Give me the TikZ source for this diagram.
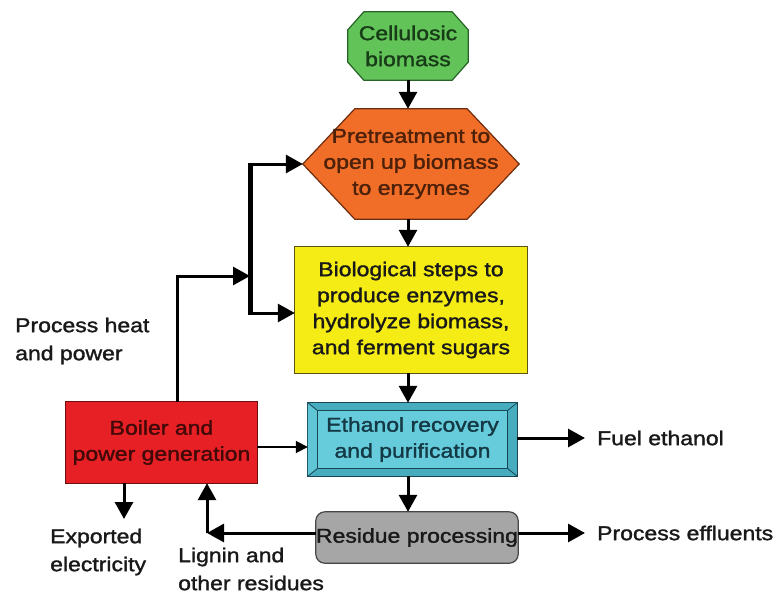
\documentclass[tikz,border=0pt]{standalone}
\usepackage{fontspec}
\setmainfont[FakeStretch=1.15,FakeBold=1.5]{Liberation Sans}
\usetikzlibrary{arrows.meta,calc}
\definecolor{cgreen}{RGB}{98,196,88}
\definecolor{cgreenb}{RGB}{40,100,40}
\definecolor{corange}{RGB}{240,110,40}
\definecolor{corangeb}{RGB}{110,45,15}
\definecolor{cyellow}{RGB}{245,236,22}
\definecolor{cyellowb}{RGB}{90,85,20}
\definecolor{ccyan}{RGB}{102,204,220}
\definecolor{ccyand}{RGB}{70,172,190}
\definecolor{ccyanb}{RGB}{25,70,85}
\definecolor{cred}{RGB}{230,32,36}
\definecolor{credb}{RGB}{110,15,15}
\definecolor{cgray}{RGB}{166,166,166}
\definecolor{cgrayb}{RGB}{70,70,70}
\definecolor{txt}{RGB}{25,25,25}
\tikzset{
  box/.style={draw=none, inner sep=0pt, align=center, text=txt,
    font=\fontsize{20}{26}\selectfont},
  lbl/.style={inner sep=0pt, align=left, text=txt,
    font=\fontsize{20}{28}\selectfont},
  flow/.style={line width=3pt, -{Triangle[length=17pt,width=18pt]}},
  thinflow/.style={line width=1.8pt, -{Triangle[length=12pt,width=12pt]}},
  bar/.style={line width=5pt},
}
\begin{document}
\begin{tikzpicture}[x=1pt,y=-1pt]
\useasboundingbox[fill=white] (0,0) rectangle (777,597);

% --- nodes (text holders with exact sizes) ---
\node[box, minimum width=120pt, minimum height=68pt] (cb) at (408,46) {};
\node[box, minimum width=216pt, minimum height=110pt] (pre) at (411,164) {};
\node[box, minimum width=232pt, minimum height=126pt] (bio) at (411,310) {};
\node[box, minimum width=209pt, minimum height=73pt] (eth) at (412.5,439.5) {};
\node[box, minimum width=202pt, minimum height=51pt] (res) at (417,537.5) {};
\node[box, minimum width=191pt, minimum height=81pt] (boil) at (161.5,442.5) {};

% --- shapes ---
\fill[cgreen, draw=cgreenb, line width=1.2pt]
  ($(cb.north west)+(16,0)$) -- ($(cb.north east)+(-16,0)$) -- ($(cb.north east)+(0,18)$)
  -- ($(cb.south east)+(0,-18)$) -- ($(cb.south east)+(-16,0)$) -- ($(cb.south west)+(16,0)$)
  -- ($(cb.south west)+(0,-18)$) -- ($(cb.north west)+(0,18)$) -- cycle;
\fill[corange, draw=corangeb, line width=1.2pt]
  ($(pre.north west)+(52,0)$) -- ($(pre.north east)+(-52,0)$) -- (pre.east)
  -- ($(pre.south east)+(-52,0)$) -- ($(pre.south west)+(52,0)$) -- (pre.west) -- cycle;
\fill[cyellow, draw=cyellowb, line width=1.2pt] (bio.north west) rectangle (bio.south east);
\fill[ccyand, draw=ccyanb, line width=1.2pt] (eth.north west) rectangle (eth.south east);
\fill[ccyan!80!ccyand] ($(eth.north west)+(10,8)$) -- (eth.north west) -- (eth.south west) -- ($(eth.south west)+(10,-8)$) -- cycle;
\fill[ccyan, draw=ccyanb, line width=0.8pt] ($(eth.north west)+(10,8)$) rectangle ($(eth.south east)+(-10,-8)$);
\draw[ccyanb, line width=0.8pt]
  (eth.north west) -- ($(eth.north west)+(10,8)$)
  (eth.north east) -- ($(eth.north east)+(-10,8)$)
  (eth.south west) -- ($(eth.south west)+(10,-8)$)
  (eth.south east) -- ($(eth.south east)+(-10,-8)$);
\fill[cgray, draw=cgrayb, line width=1.2pt, rounded corners=9pt] (res.north west) rectangle (res.south east);
\fill[cred, draw=credb, line width=1.2pt] (boil.north west) rectangle (boil.south east);

% texts on top
\node[box, text=cgreenb!60!black] at (cb) {Cellulosic\\biomass};
\node[box, text=corangeb!70!black] at (pre) {Pretreatment to\\open up biomass\\to enzymes};
\node[box] at (bio) {Biological steps to\\produce enzymes,\\hydrolyze biomass,\\and ferment sugars};
\node[box, text=ccyanb!80!black] at (eth) {Ethanol recovery\\and purification};
\node[box] at (res) {Residue processing};
\node[box, text=credb!60!black] at (boil) {Boiler and\\power generation};

% --- labels ---
\node[lbl, anchor=west] (fuel) at (597,438) {Fuel ethanol};
\node[lbl, anchor=west] (effl) at (597,533) {Process effluents};
\node[lbl, anchor=west] (heat) at (15,341) {Process heat\\and power};
\node[lbl, anchor=west] (expo) at (50,552) {Exported\\electricity};
\node[lbl, anchor=west] (lign) at (178,569) {Lignin and\\other residues};

% --- coordinates ---
\coordinate (jt) at (250,164);
\coordinate (jb) at (250,313);
\coordinate (hc) at (177,276);
\coordinate (lc) at (207,533);
\coordinate (ex) at (124,519);

% --- connectors ---
\draw[flow] (cb.south) -- (pre.north -| cb.south);
\draw[flow] (pre.south -| cb.south) -- (bio.north -| cb.south);
\draw[flow] (bio.south -| cb.south) -- (eth.north -| cb.south);
\draw[flow] (eth.south -| cb.south) -- (res.north -| cb.south);
\draw[flow] (eth.east |- fuel) -- ([xshift=-12pt]fuel.west);
\draw[flow] (res.east |- effl) -- ([xshift=-12pt]effl.west);
\draw[thinflow] ([yshift=-4.5pt]boil.east) -- ([yshift=-7.5pt]eth.west);
\draw[flow] (boil.south -| ex) -- (ex);
\draw[flow] (res.west |- lc) -- (lc);
\draw[flow] (lc) -- (boil.south -| lc);
\draw[flow] (boil.north -| hc) -- (hc) -- (jt |- hc);
\draw[bar] (jt) -- (jb);
\draw[flow] ([xshift=-2pt]jt) -- (pre.west);
\draw[flow] ([xshift=-2pt]jb) -- (jb -| bio.west);
\end{tikzpicture}
\end{document}
